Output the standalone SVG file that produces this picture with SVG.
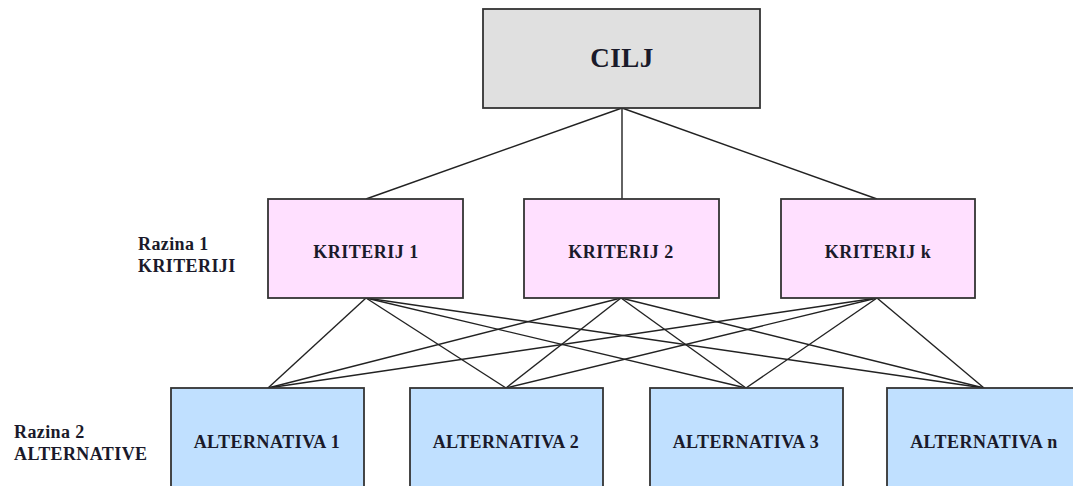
<svg xmlns="http://www.w3.org/2000/svg" width="1073" height="486" viewBox="0 0 1073 486">
<style>
.box{stroke:#333;stroke-width:1.8}
.goal{fill:#e0e0e0}
.crit{fill:#ffe0ff}
.alt{fill:#c0e0ff}
.t{font-family:"Liberation Serif","Times New Roman",serif;font-weight:bold;fill:#1a1a2a;text-anchor:middle;letter-spacing:0.5px}
.lbl{font-family:"Liberation Serif","Times New Roman",serif;font-weight:bold;fill:#1a1a2a;font-size:18px;letter-spacing:0.4px}
.c{stroke:#222;stroke-width:1.4;fill:none}
</style>
<rect width="1073" height="486" fill="#fff"/>
<g id="connectors">
<line class="c" x1="622" y1="108" x2="366" y2="199"/>
<line class="c" x1="622" y1="108" x2="622" y2="199"/>
<line class="c" x1="622" y1="108" x2="877" y2="199"/>
<line class="c" x1="366" y1="298" x2="268" y2="388"/>
<line class="c" x1="366" y1="298" x2="506" y2="388"/>
<line class="c" x1="366" y1="298" x2="746" y2="388"/>
<line class="c" x1="366" y1="298" x2="984" y2="388"/>
<line class="c" x1="621" y1="298" x2="268" y2="388"/>
<line class="c" x1="621" y1="298" x2="506" y2="388"/>
<line class="c" x1="621" y1="298" x2="746" y2="388"/>
<line class="c" x1="621" y1="298" x2="984" y2="388"/>
<line class="c" x1="877" y1="298" x2="268" y2="388"/>
<line class="c" x1="877" y1="298" x2="506" y2="388"/>
<line class="c" x1="877" y1="298" x2="746" y2="388"/>
<line class="c" x1="877" y1="298" x2="984" y2="388"/>
</g>
<g id="cilj">
<rect class="box goal" x="483" y="9" width="277" height="99"/>
<text class="t" x="622" y="67" font-size="27">CILJ</text>
</g>
<g id="kriterij1">
<rect class="box crit" x="268" y="199" width="195" height="99"/>
<text class="t" x="366" y="258" font-size="18">KRITERIJ 1</text>
</g>
<g id="kriterij2">
<rect class="box crit" x="524" y="199" width="195" height="99"/>
<text class="t" x="621" y="258" font-size="18">KRITERIJ 2</text>
</g>
<g id="kriterijk">
<rect class="box crit" x="781" y="199" width="194" height="99"/>
<text class="t" x="878" y="258" font-size="18">KRITERIJ k</text>
</g>
<g id="alt1">
<rect class="box alt" x="171" y="388" width="193" height="102"/>
<text class="t" x="267" y="448" font-size="18">ALTERNATIVA 1</text>
</g>
<g id="alt2">
<rect class="box alt" x="410" y="388" width="193" height="102"/>
<text class="t" x="506" y="448" font-size="18">ALTERNATIVA 2</text>
</g>
<g id="alt3">
<rect class="box alt" x="650" y="388" width="193" height="102"/>
<text class="t" x="746" y="448" font-size="18">ALTERNATIVA 3</text>
</g>
<g id="altn">
<rect class="box alt" x="887" y="388" width="194" height="102"/>
<text class="t" x="984" y="448" font-size="18">ALTERNATIVA n</text>
</g>
<g id="razina1">
<text class="lbl" x="138" y="250">Razina 1</text>
<text class="lbl" x="138" y="272">KRITERIJI</text>
</g>
<g id="razina2">
<text class="lbl" x="14" y="438">Razina 2</text>
<text class="lbl" x="14" y="460">ALTERNATIVE</text>
</g>
</svg>
